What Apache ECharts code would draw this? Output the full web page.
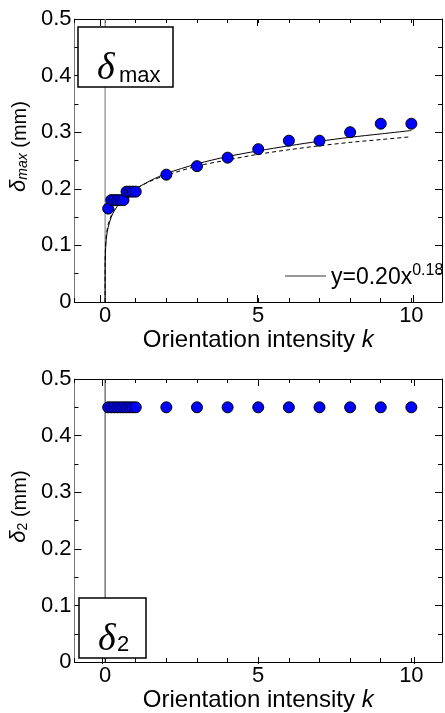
<!DOCTYPE html>
<html>
<head>
<meta charset="utf-8">
<script src="https://cdn.jsdelivr.net/npm/echarts@6/dist/echarts.min.js"></script>
<style>
  html, body { margin: 0; padding: 0; background: #fff; }
  #chart { width: 445px; height: 713px; }
</style>
</head>
<body>
<div id="chart"></div>
<script>
// Orientation intensity k of the measured points
const kValues = [0.1, 0.2, 0.3, 0.4, 0.5, 0.6, 0.7, 0.8, 0.9, 1, 2, 3, 4, 5, 6, 7, 8, 9, 10];
// Maximum deflection δmax (mm)
const deltaMax = [0.165, 0.18, 0.18, 0.18, 0.18, 0.18, 0.195, 0.195, 0.195, 0.195,
                  0.225, 0.24, 0.255, 0.27, 0.285, 0.285, 0.30, 0.315, 0.315];
// Deflection δ2 (mm)
const delta2 = [0.45, 0.45, 0.45, 0.45, 0.45, 0.45, 0.45, 0.45, 0.45, 0.45,
                0.45, 0.45, 0.45, 0.45, 0.45, 0.45, 0.45, 0.45, 0.45];

// Power-law fit curves y = 0.20 x^0.18 (solid) and the reference curve (dashed)
const fitK      = [0, 0.002, 0.01, 0.03, 0.05, 0.1, 0.2, 0.3, 0.5, 0.7, 1, 1.5, 2, 3, 4, 5, 6, 7, 8, 9, 10];
const fitSolid  = [0, 0.065, 0.087, 0.106, 0.117, 0.132, 0.150, 0.161, 0.177, 0.188, 0.200,
                   0.215, 0.227, 0.244, 0.257, 0.267, 0.276, 0.284, 0.291, 0.297, 0.303];
const fitDashed = [0, 0.072, 0.094, 0.112, 0.122, 0.137, 0.153, 0.164, 0.178, 0.189, 0.200,
                   0.214, 0.224, 0.240, 0.251, 0.261, 0.269, 0.276, 0.282, 0.287, 0.292];

// Vertical reference line at k = 0
const zeroLineK = [0, 0];
const zeroLineY = [0, 0.5];

// Axis ticks
const xMajorTicks = [0, 5, 10];
const xRange = [-1, 11];
const yRange = [0, 0.5];

const FONT = '"Liberation Sans", Arial, sans-serif';
const pairs = (xs, ys) => xs.map((x, i) => [x, ys[i]]);

const panels = [
  { left: 69, top: 19, height: 283, leftColor: '#777', zeroColor: '#8a8a8a', sub: 'max', subItalic: true },
  { left: 71, top: 379, height: 285, leftColor: '#777', zeroColor: '#333', sub: '2', subItalic: false }
];
const PW = 380;

const grid = [], xAxis = [], yAxis = [];
panels.forEach((p, i) => {
  // grid 2i: frame with minor ticks and labels; grid 2i+1: major x ticks
  grid.push({ left: p.left, top: p.top, width: PW, height: p.height, containLabel: false });
  grid.push({ left: p.left, top: p.top, width: PW, height: p.height, containLabel: false });
  const g = 2 * i;
  const baseX = {
    type: 'value', min: xRange[0], max: xRange[1], splitLine: { show: false },
    axisLine: { show: true, onZero: false, lineStyle: { color: '#000', width: 1 } }
  };
  xAxis.push(Object.assign({}, baseX, {
    gridIndex: g, position: 'bottom', interval: 1,
    axisTick: { inside: true, length: 4, lineStyle: { color: '#000' } },
    axisLabel: {
      margin: 3, fontSize: 22, color: '#000', fontFamily: FONT,
      formatter: v => (xMajorTicks.indexOf(v) >= 0 ? String(v) : '')
    },
    name: 'Orientation intensity {i|k}', nameLocation: 'middle', nameGap: 22,
    nameTextStyle: { fontSize: 24, color: '#000', fontFamily: FONT,
      rich: { i: { fontStyle: 'italic', fontSize: 24, color: '#000', fontFamily: FONT } } }
  }));
  xAxis.push(Object.assign({}, baseX, {
    gridIndex: g, position: 'top', interval: 1,
    axisTick: { inside: true, length: 4, lineStyle: { color: '#000' } },
    axisLabel: { show: false }
  }));
  xAxis.push(Object.assign({}, baseX, {
    gridIndex: g + 1, position: 'bottom', axisLine: { show: false },
    axisTick: { inside: true, length: 7, customValues: xMajorTicks, lineStyle: { color: '#000' } },
    axisLabel: { show: false }
  }));
  xAxis.push(Object.assign({}, baseX, {
    gridIndex: g + 1, position: 'top', axisLine: { show: false },
    axisTick: { inside: true, length: 7, customValues: xMajorTicks, lineStyle: { color: '#000' } },
    axisLabel: { show: false }
  }));
  const baseY = {
    type: 'value', min: yRange[0], max: yRange[1], interval: 0.1, splitLine: { show: false },
    axisTick: { inside: true, length: 7, lineStyle: { color: '#000' } },
    minorTick: { show: true, splitNumber: 2, length: 4, lineStyle: { color: '#000' } }
  };
  yAxis.push(Object.assign({}, baseY, {
    gridIndex: g, position: 'left',
    axisLine: { show: true, onZero: false, lineStyle: { color: p.leftColor, width: 1 } },
    axisLabel: {
      margin: 3, fontSize: 22, color: '#000', fontFamily: FONT,
      formatter: v => (v === 0 ? '0' : v.toFixed(1))
    },
    name: '{d|δ}{s|' + p.sub + '}{m| (mm)}', nameLocation: 'middle', nameGap: 29, nameRotate: 90,
    nameTextStyle: { fontSize: 20, color: '#000', fontFamily: FONT, padding: [0, 0, 0, 28],
      rich: {
        d: { fontStyle: 'italic', fontSize: 22, lineHeight: 26, verticalAlign: 'bottom',
             color: '#000', fontFamily: FONT },
        s: { fontStyle: p.subItalic ? 'italic' : 'normal', fontSize: 14, lineHeight: 10,
             verticalAlign: 'bottom', color: '#000', fontFamily: FONT },
        m: { fontSize: 20, lineHeight: 26, verticalAlign: 'bottom', color: '#000', fontFamily: FONT }
      } }
  }));
  yAxis.push(Object.assign({}, baseY, {
    gridIndex: g, position: 'right',
    axisLine: { show: true, onZero: false, lineStyle: { color: '#000', width: 1 } },
    axisLabel: { show: false }
  }));
  yAxis.push({ type: 'value', gridIndex: g + 1, min: yRange[0], max: yRange[1], show: false });
});

const scatterStyle = { color: '#0000ff', borderColor: '#000', borderWidth: 1, opacity: 1 };

const series = [
  // top panel (grid 0: xAxis 0, yAxis 0)
  { type: 'line', name: 'zero0', xAxisIndex: 0, yAxisIndex: 0, data: pairs(zeroLineK, zeroLineY),
    symbol: 'none', lineStyle: { color: panels[0].zeroColor, width: 1.2 }, silent: true, z: 1 },
  { type: 'line', name: 'fit', xAxisIndex: 0, yAxisIndex: 0, data: pairs(fitK, fitSolid),
    symbol: 'none', smooth: 0.3, lineStyle: { color: '#000', width: 1 }, z: 2 },
  { type: 'line', name: 'ref', xAxisIndex: 0, yAxisIndex: 0, data: pairs(fitK, fitDashed),
    symbol: 'none', smooth: 0.3, lineStyle: { color: '#000', width: 1, type: [4, 3] }, z: 2 },
  { type: 'scatter', name: 'dmax', xAxisIndex: 0, yAxisIndex: 0, data: pairs(kValues, deltaMax),
    symbolSize: 11, itemStyle: scatterStyle, z: 3 },
  // bottom panel (grid 2: xAxis 4, yAxis 3)
  { type: 'line', name: 'zero1', xAxisIndex: 4, yAxisIndex: 3, data: pairs(zeroLineK, zeroLineY),
    symbol: 'none', lineStyle: { color: panels[1].zeroColor, width: 1 }, silent: true, z: 1 },
  { type: 'scatter', name: 'd2', xAxisIndex: 4, yAxisIndex: 3, data: pairs(kValues, delta2),
    symbolSize: 11, itemStyle: scatterStyle, z: 3 }
];

const chart = echarts.init(document.getElementById('chart'), null, { renderer: 'canvas' });
chart.setOption({
  backgroundColor: '#fff',
  animation: false,
  textStyle: { fontFamily: FONT },
  grid, xAxis, yAxis, series,
  legend: {
    show: true, data: ['fit'], left: 285, top: 263, itemWidth: 41, itemHeight: 1, padding: 0,
    icon: 'rect', itemStyle: { color: '#333' },
    formatter: () => '{a|y=0.20x}{b|0.18}',
    textStyle: {
      color: '#000',
      rich: {
        a: { fontSize: 23, lineHeight: 26, verticalAlign: 'bottom', color: '#000', fontFamily: FONT },
        b: { fontSize: 16, lineHeight: 16, verticalAlign: 'top', color: '#000', fontFamily: FONT }
      }
    }
  },
  graphic: [
    { type: 'rect', shape: { x: 78, y: 27, width: 95, height: 60 },
      style: { fill: '#fff', stroke: '#000', lineWidth: 1.5 }, z: 100 },
    { type: 'text', x: 97, y: 88, z: 101,
      style: { text: 'δ', font: 'italic 38px "Liberation Serif", serif', fill: '#000', verticalAlign: 'bottom' } },
    { type: 'text', x: 119, y: 87, z: 101,
      style: { text: 'max', font: '22px ' + FONT, fill: '#000', verticalAlign: 'bottom' } },
    { type: 'rect', shape: { x: 79, y: 598, width: 67, height: 60 },
      style: { fill: '#fff', stroke: '#000', lineWidth: 1.5 }, z: 100 },
    { type: 'text', x: 98, y: 659, z: 101,
      style: { text: 'δ', font: 'italic 38px "Liberation Serif", serif', fill: '#000', verticalAlign: 'bottom' } },
    { type: 'text', x: 117, y: 656, z: 101,
      style: { text: '2', font: '22px ' + FONT, fill: '#000', verticalAlign: 'bottom' } }
  ]
});
</script>
</body>
</html>
